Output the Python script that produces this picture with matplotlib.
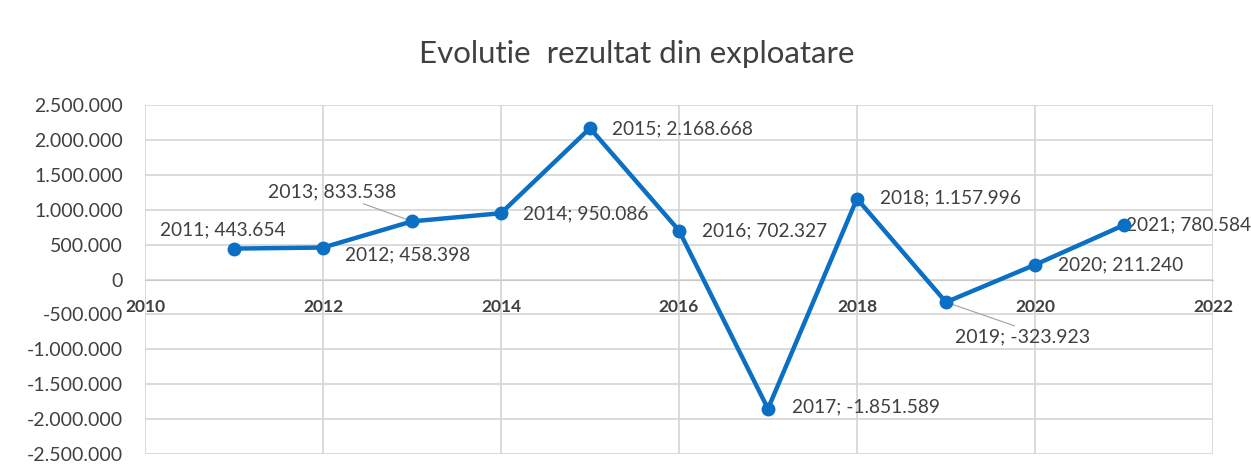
import matplotlib.pyplot as plt
import matplotlib.ticker as mticker

plt.rcParams['font.family'] = ['Lato', 'DejaVu Sans']

ani = [2011, 2012, 2013, 2014, 2015, 2016, 2017, 2018, 2019, 2020, 2021]
rezultat = [443654, 458398, 833538, 950086, 2168668, 702327, -1851589, 1157996, -323923, 211240, 780584]
# label offsets in pixels (dx, dy) from each point, and whether a leader line is drawn
offsets = [(-74, 19), (22, -7), (-144, 29), (22, -1), (22, -1), (23, 0),
           (24, 2), (23, 1), (9, -35), (23, 0), (2, 0)]
leaders = [False, False, True, False, False, False, False, False, True, False, False]


def fmt_ro(v):
    s = f"{abs(int(v)):,}".replace(",", ".")
    return ("-" if v < 0 else "") + s


text_col = '#404040'
blue = '#0b6fc4'

fig = plt.figure(figsize=(12.51, 4.71), dpi=100)
ax = fig.add_axes([0.1159, 0.036, 0.8537, 0.741])

ax.plot(ani, rezultat, color=blue, lw=3.2, marker='o', ms=9, zorder=3)

for x, y, (dx, dy), lead in zip(ani, rezultat, offsets, leaders):
    lbl = f"{x}; {fmt_ro(y)}"
    if lead:
        ax.annotate(lbl, (x, y), xytext=(dx, dy), textcoords='offset pixels',
                    ha='left', va='center', fontsize=14, color=text_col,
                    arrowprops=dict(arrowstyle='-', color='#a0a0a0', lw=0.8,
                                    shrinkA=0, shrinkB=4, relpos=(0.5, 0.5 if dy > 0 else 1.0)),
                    zorder=2)
    else:
        ax.annotate(lbl, (x, y), xytext=(dx, dy), textcoords='offset pixels',
                    ha='left', va='center', fontsize=13.8, color=text_col, zorder=2)

ax.set_xlim(2010, 2022)
ax.set_ylim(-2500000, 2500000)
ax.set_xticks(range(2010, 2023, 2))
ax.set_yticks(range(-2500000, 2500001, 500000))
ax.yaxis.set_major_formatter(mticker.FuncFormatter(lambda v, p: fmt_ro(v)))

ax.grid(True, color='#d4d4d4', lw=1.2)
ax.set_axisbelow(True)
for s in ['top', 'right', 'left']:
    ax.spines[s].set_visible(False)
ax.spines['bottom'].set_position(('data', 0))
ax.spines['bottom'].set_color('#c8c8c8')

ax.tick_params(axis='y', length=0, pad=16, labelsize=14, labelcolor=text_col)
ax.tick_params(axis='x', length=0, pad=14, labelsize=12.5, labelcolor=text_col)
for t in ax.get_xticklabels():
    t.set_fontweight('bold')

fig.text(0.509, 0.885, 'Evolutie  rezultat din exploatare', ha='center', va='center',
         fontsize=22.5, color=text_col)

fig.savefig('out.png', dpi=100)
